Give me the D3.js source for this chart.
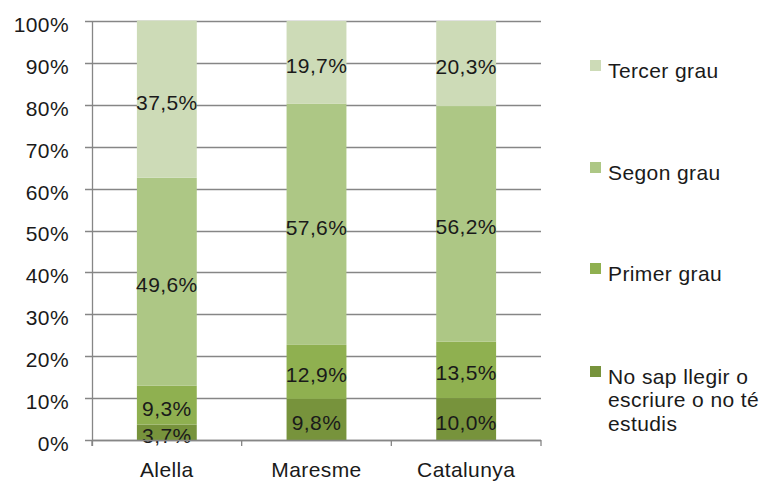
<!DOCTYPE html>
<html>
<head>
<meta charset="utf-8">
<script src="https://cdn.jsdelivr.net/npm/d3@7"></script>
<style>
  body { margin: 0; background: #fff; }
  text { font-family: "Liberation Sans", Arial, sans-serif; fill: #1a1a1a; font-size: 21px; letter-spacing: 0.4px; }
</style>
</head>
<body>
<svg id="chart" width="774" height="483"></svg>
<script>
var categories = ['Alella', 'Maresme', 'Catalunya'];
var seriesNames = ['No sap llegir o escriure o no té estudis', 'Primer grau', 'Segon grau', 'Tercer grau'];
var noSap = [3.7, 9.8, 10.0];
var primer = [9.3, 12.9, 13.5];
var segon = [49.6, 57.6, 56.2];
var tercer = [37.5, 19.7, 20.3];
var yTicks = [0, 10, 20, 30, 40, 50, 60, 70, 80, 90, 100];
var colors = ['#77933c', '#8fb050', '#adc785', '#cddbb7'];
var legendLines = [['No sap llegir o', 'escriure o no té', 'estudis'], ['Primer grau'], ['Segon grau'], ['Tercer grau']];

var svg = d3.select('#chart');
var margin = {left: 92, top: 21, right: 233, bottom: 43};
var width = 774 - margin.left - margin.right;
var height = 483 - margin.top - margin.bottom;

var rows = categories.map(function(c, i) {
  return {cat: c, s0: noSap[i], s1: primer[i], s2: segon[i], s3: tercer[i]};
});
var stack = d3.stack().keys(['s0', 's1', 's2', 's3']);
var layers = stack(rows);

var x = d3.scaleBand().domain(categories).range([0, width]).paddingInner(0.6).paddingOuter(0.3);
var y = d3.scaleLinear().domain([0, 100]).range([height, 0]);

var g = svg.append('g').attr('transform', 'translate(' + margin.left + ',' + margin.top + ')');

// gridlines
g.selectAll('line.grid').data(yTicks).enter().append('line')
  .attr('class', 'grid')
  .attr('x1', -7).attr('x2', width)
  .attr('y1', function(d) { return Math.round(y(d)) + 0.5; })
  .attr('y2', function(d) { return Math.round(y(d)) + 0.5; })
  .attr('stroke', '#868686').attr('stroke-width', 1.3);

g.selectAll('text.ytick').data(yTicks).enter().append('text')
  .attr('x', -23).attr('y', function(d) { return y(d); })
  .attr('dy', '0.52em').attr('text-anchor', 'end')
  .text(function(d) { return d + '%'; });

// bars
var layer = g.selectAll('g.layer').data(layers).enter().append('g')
  .attr('fill', function(d, i) { return colors[i]; });
layer.selectAll('rect').data(function(d) { return d; }).enter().append('rect')
  .attr('x', function(d) { return x(d.data.cat); })
  .attr('width', x.bandwidth())
  .attr('y', function(d) { return y(d[1]); })
  .attr('height', function(d) { return y(d[0]) - y(d[1]); });

// axes lines
g.append('line').attr('x1', 0.5).attr('x2', 0.5).attr('y1', 0).attr('y2', height + 6)
  .attr('stroke', '#868686').attr('stroke-width', 1.3);
g.append('line').attr('x1', 0).attr('x2', width).attr('y1', height + 0.5).attr('y2', height + 0.5)
  .attr('stroke', '#868686').attr('stroke-width', 1.3);
var step = width / categories.length;
g.selectAll('line.xtick').data(d3.range(categories.length + 1)).enter().append('line')
  .attr('x1', function(d) { return d * step; }).attr('x2', function(d) { return d * step; })
  .attr('y1', height).attr('y2', height + 6)
  .attr('stroke', '#868686').attr('stroke-width', 1.3);

g.selectAll('text.xlab').data(categories).enter().append('text')
  .attr('x', function(d) { return x(d) + x.bandwidth() / 2; })
  .attr('y', height + 37).attr('text-anchor', 'middle')
  .text(function(d) { return d; });

// data labels
layer.selectAll('text').data(function(d) { return d; }).enter().append('text')
  .attr('x', function(d) { return x(d.data.cat) + x.bandwidth() / 2; })
  .attr('y', function(d) { return (y(d[0]) + y(d[1])) / 2; })
  .attr('dy', '0.5em').attr('text-anchor', 'middle')
  .text(function(d) { return (d[1] - d[0]).toFixed(1).replace('.', ',') + '%'; });

// legend
var legendY = [366, 263, 162, 60];
var legend = svg.selectAll('g.legend').data(seriesNames).enter().append('g')
  .attr('transform', function(d, i) { return 'translate(590,' + legendY[i] + ')'; });
legend.append('rect').attr('x', 0).attr('y', 0).attr('width', 11).attr('height', 11)
  .attr('fill', function(d, i) { return colors[i]; });
legend.each(function(d, i) {
  var t = d3.select(this).append('text').attr('x', 18).attr('y', 17.5);
  legendLines[i].forEach(function(line, j) {
    t.append('tspan').attr('x', 18).attr('dy', j === 0 ? '0' : '23.5px').text(line);
  });
});
</script>
</body>
</html>
